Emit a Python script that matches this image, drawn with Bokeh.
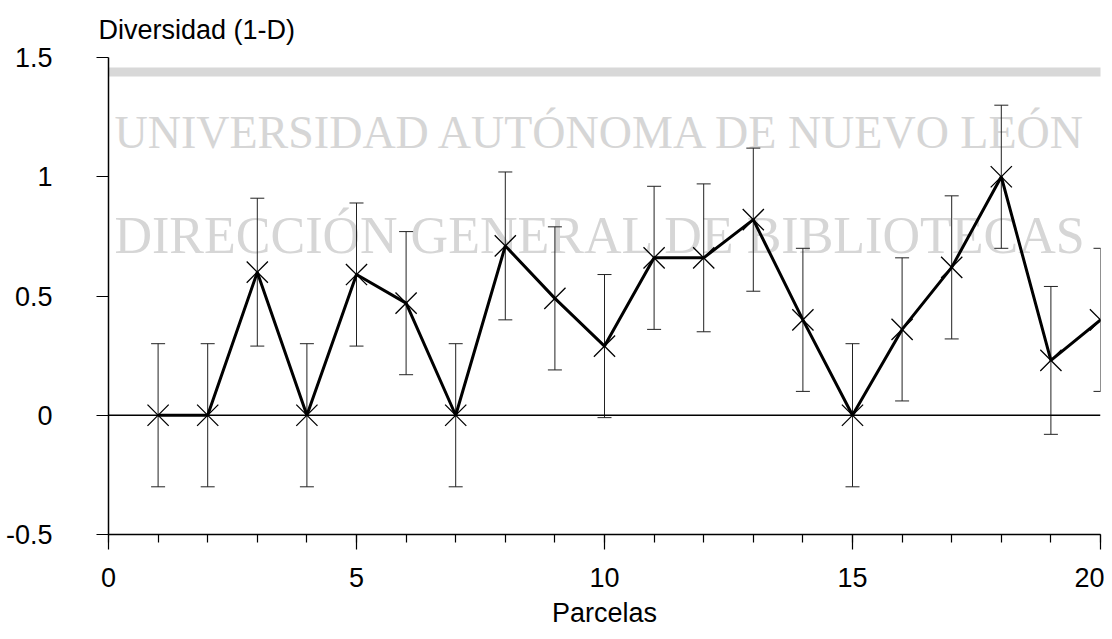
from bokeh.plotting import figure
from bokeh.models import (ColumnDataSource, Whisker, TeeHead, Span, Label,
                          FixedTicker, BoxAnnotation, Title)
from bokeh.embed import file_html
from bokeh.resources import INLINE

# ---- data ----
parcelas = list(range(1, 21))
diversidad = [0.00, 0.00, 0.60, 0.00, 0.59, 0.47, 0.00, 0.71, 0.49, 0.29,
              0.66, 0.66, 0.82, 0.40, 0.00, 0.36, 0.62, 1.00, 0.23, 0.40]
error = [0.30, 0.30, 0.31, 0.30, 0.30, 0.30, 0.30, 0.31, 0.30, 0.30,
         0.30, 0.31, 0.30, 0.30, 0.30, 0.30, 0.30, 0.30, 0.31, 0.30]
x_ticks = [0, 5, 10, 15, 20]
x_tick_labels = ["0", "5", "10", "15", "20"]
y_ticks = [-0.5, 0, 0.5, 1, 1.5]
y_tick_labels = ["-0.5", "0", "0.5", "1", "1.5"]
y_title = "Diversidad (1-D)"
x_title = "Parcelas"
watermark_1 = "UNIVERSIDAD AUTÓNOMA DE NUEVO LEÓN"
watermark_2 = "DIRECCIÓN GENERAL DE BIBLIOTECAS"

FONT = "Liberation Sans"
W, H = 1104, 631
LEFT, RIGHT, TOP, BOTTOM = 108, 4, 57, 97

p = figure(width=W, height=H, x_range=(0, 20), y_range=(-0.5, 1.5),
           output_backend="svg", toolbar_location=None,
           min_border_left=LEFT, min_border_right=RIGHT,
           min_border_top=TOP, min_border_bottom=BOTTOM)
p.outline_line_color = None
p.grid.visible = False
p.background_fill_color = "white"
p.border_fill_color = "white"

# pixel -> data helpers (for the watermark annotations)
fw = W - LEFT - RIGHT
fh = H - TOP - BOTTOM
def dx(px):
    return (px - LEFT) / fw * 20.0
def dy(py):
    return 1.5 - (py - TOP) / fh * 2.0

# ---- watermark (underlay) ----
p.add_layout(BoxAnnotation(left=dx(-20), right=dx(W + 20), top=dy(67), bottom=dy(76),
                           fill_color="#d8d8d8", fill_alpha=1.0, line_color=None,
                           level="underlay"))
for txt, px, base, size in [(watermark_1, 114, 148, 46),
                            (watermark_2, 114, 253, 52)]:
    p.add_layout(Label(x=dx(px), y=dy(base - 0.35 * size), text=txt,
                       text_font="Liberation Serif", text_font_size=f"{size}px",
                       text_color="#d6d6d6", text_baseline="alphabetic",
                       text_align="left", level="underlay"))

# ---- zero line ----
p.add_layout(Span(location=0, dimension="width", line_color="black", line_width=1.5))

src = ColumnDataSource(dict(
    x=parcelas, y=diversidad,
    upper=[v + e for v, e in zip(diversidad, error)],
    lower=[v - e for v, e in zip(diversidad, error)],
))

p.add_layout(Whisker(source=src, base="x", upper="upper", lower="lower",
                     line_color="#222222", line_width=1,
                     upper_head=TeeHead(size=14, line_color="#222222", line_width=1),
                     lower_head=TeeHead(size=14, line_color="#222222", line_width=1)))

p.line("x", "y", source=src, line_color="black", line_width=3)
p.scatter("x", "y", source=src, marker="x", size=30, line_color="black",
          line_width=1.3)

# ---- axes ----
xa = p.xaxis[0]
xa.ticker = FixedTicker(ticks=x_ticks, minor_ticks=parcelas + [0])
xa.major_label_overrides = {t: l for t, l in zip(x_ticks, x_tick_labels)}
xa.axis_line_width = 1.5
xa.major_tick_in = 0
xa.major_tick_out = 15
xa.minor_tick_in = 0
xa.minor_tick_out = 8
xa.major_tick_line_width = 1.2
xa.minor_tick_line_width = 1.2
xa.major_label_standoff = 18
xa.major_label_text_font = FONT
xa.major_label_text_font_size = "27px"
xa.major_label_text_color = "black"
xa.axis_label = x_title
xa.axis_label_text_font = FONT
xa.axis_label_text_font_size = "27px"
xa.axis_label_text_font_style = "normal"
xa.axis_label_text_color = "black"
xa.axis_label_standoff = 8

ya = p.yaxis[0]
ya.ticker = FixedTicker(ticks=y_ticks, minor_ticks=[])
ya.major_label_overrides = {t: l for t, l in zip(y_ticks, y_tick_labels)}
ya.axis_line_width = 1.5
ya.major_tick_in = 0
ya.major_tick_out = 12
ya.major_tick_line_width = 1.2
ya.major_label_standoff = 44
ya.major_label_text_font = FONT
ya.major_label_text_font_size = "27px"
ya.major_label_text_color = "black"

p.add_layout(Title(text=y_title, align="left", offset=-10, standoff=25,
                   text_font=FONT, text_font_size="27px",
                   text_font_style="normal", text_color="black"), "above")

open("out.html", "w").write(file_html(p, INLINE))
